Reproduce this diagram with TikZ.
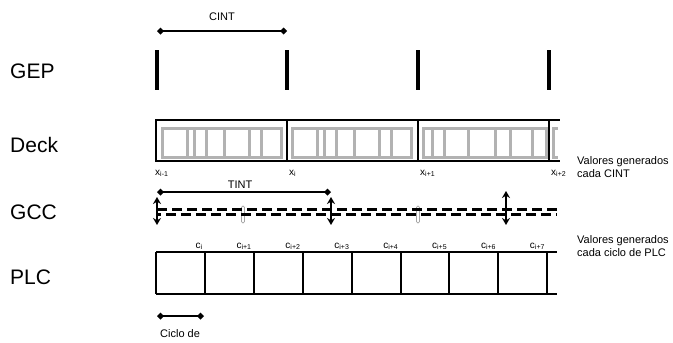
\documentclass[tikz,border=0pt]{standalone}
\usepackage{fontspec}
\setmainfont{Liberation Sans}
\usetikzlibrary{arrows.meta}

\begin{document}
\begin{tikzpicture}[
  x=1pt, y=-1pt,
  lane/.style={anchor=west,inner sep=0pt,font=\fontsize{21}{24}\selectfont},
  note/.style={anchor=west,inner sep=0pt,align=left,font=\fontsize{11}{13.5}\selectfont},
  spanlabel/.style={inner sep=0pt,font=\fontsize{11}{12}\selectfont},
  ticklabel/.style={inner sep=0pt,font=\fontsize{10}{11}\selectfont},
  span/.style={line width=2pt,{Diamond[length=7pt,width=7pt]}-{Diamond[length=7pt,width=7pt]}},
  updown/.style={line width=2pt,{Stealth[length=7pt,width=8pt]}-{Stealth[length=7pt,width=8pt]}},
  gepbar/.style={line width=4.5pt},
  frame/.style={line width=2pt},
  cell/.style={draw=black!30,line width=3pt},
  stub/.style={draw=black!35,line width=0.7pt,rounded corners=1.4pt},
  gccline/.style={line width=3pt,dash pattern=on 10pt off 5pt}
]
  \useasboundingbox (0,0) rectangle (673,343);

  % lanes
  \node[lane] (gep) at (10,71) {GEP};
  \node[lane] (deck) at (10,145) {Deck};
  \node[lane] (gcc) at (10,212) {GCC};
  \node[lane] (plc) at (10,277) {PLC};

  % GEP
  \coordinate (cint0) at (157,31);
  \coordinate (cint1) at (287,31);
  \draw[span] (cint0) -- (cint1);
  \node[spanlabel] (cint) at (222,17) {CINT};
  \foreach \x in {157,287,418,549}
    \draw[gepbar] (\x,50) -- (\x,90);

  % Deck
  \foreach \s in {0,130} {
    \draw[cell] (162+\s,128) rectangle (281+\s,157);
    \foreach \x in {187,194,206,224,249,261}
      \draw[cell] (\x+\s,128) -- (\x+\s,157);
  }
  \draw[cell] (423,128) rectangle (546,157);
  \foreach \x in {432,444,468,495,510,532}
    \draw[cell] (\x,128) -- (\x,157);
  \draw[cell] (558,128) -- (553.5,128) -- (553.5,157) -- (558,157);
  \draw[frame] (155,120) -- (560,120);
  \draw[frame] (155,161) -- (560,161);
  \foreach \x in {156,287,418,549}
    \draw[frame] (\x,120) -- (\x,161);
  \node[ticklabel,anchor=base west] (xa) at (155,175) {x\textsubscript{i-1}};
  \node[ticklabel,anchor=base west] (xb) at (289,175) {x\textsubscript{i}};
  \node[ticklabel,anchor=base west] (xc) at (420,175) {x\textsubscript{i+1}};
  \node[ticklabel,anchor=base west] (xd) at (551,175) {x\textsubscript{i+2}};
  \node[note] (note1) at (577,167) {Valores generados\\cada CINT};

  % GCC
  \coordinate (tint0) at (157,192);
  \coordinate (tint1) at (331,192);
  \draw[span] (tint0) -- (tint1);
  \node[spanlabel] (tint) at (240,185) {TINT};
  \draw[stub] (241.5,206) rectangle (244.5,223);
  \draw[stub] (416.5,206) rectangle (419.5,223);
  \draw[gccline] (157,209.5) -- (557,209.5);
  \draw[gccline,dash phase=6pt] (157,214.5) -- (557,214.5);
  \coordinate (up0) at (157,197);   \coordinate (dn0) at (157,225);
  \coordinate (up1) at (331,197);   \coordinate (dn1) at (331,225);
  \coordinate (up2) at (506,191);   \coordinate (dn2) at (506,225);
  \foreach \k in {0,1,2}
    \draw[updown] (up\k) -- (dn\k);

  % PLC
  \draw[frame] (156,252) -- (557,252);
  \draw[frame] (156,294) -- (557,294);
  \foreach \k in {0,...,8}
    \draw[frame] (156+48.9*\k,252) -- (156+48.9*\k,294);
  \foreach \s [count=\k] in {i,i+1,i+2,i+3,i+4,i+5,i+6,i+7}
    \node[ticklabel,anchor=base east] (c\k) at (154+48.9*\k,248) {c\textsubscript{\s}};
  \node[note] (note2) at (577,246) {Valores generados\\cada ciclo de PLC};
  \coordinate (cyc0) at (157,316);
  \coordinate (cyc1) at (204,316);
  \draw[span] (cyc0) -- (cyc1);
  \node[spanlabel,anchor=west] (ciclo) at (160,334) {Ciclo de};
\end{tikzpicture}
\end{document}
